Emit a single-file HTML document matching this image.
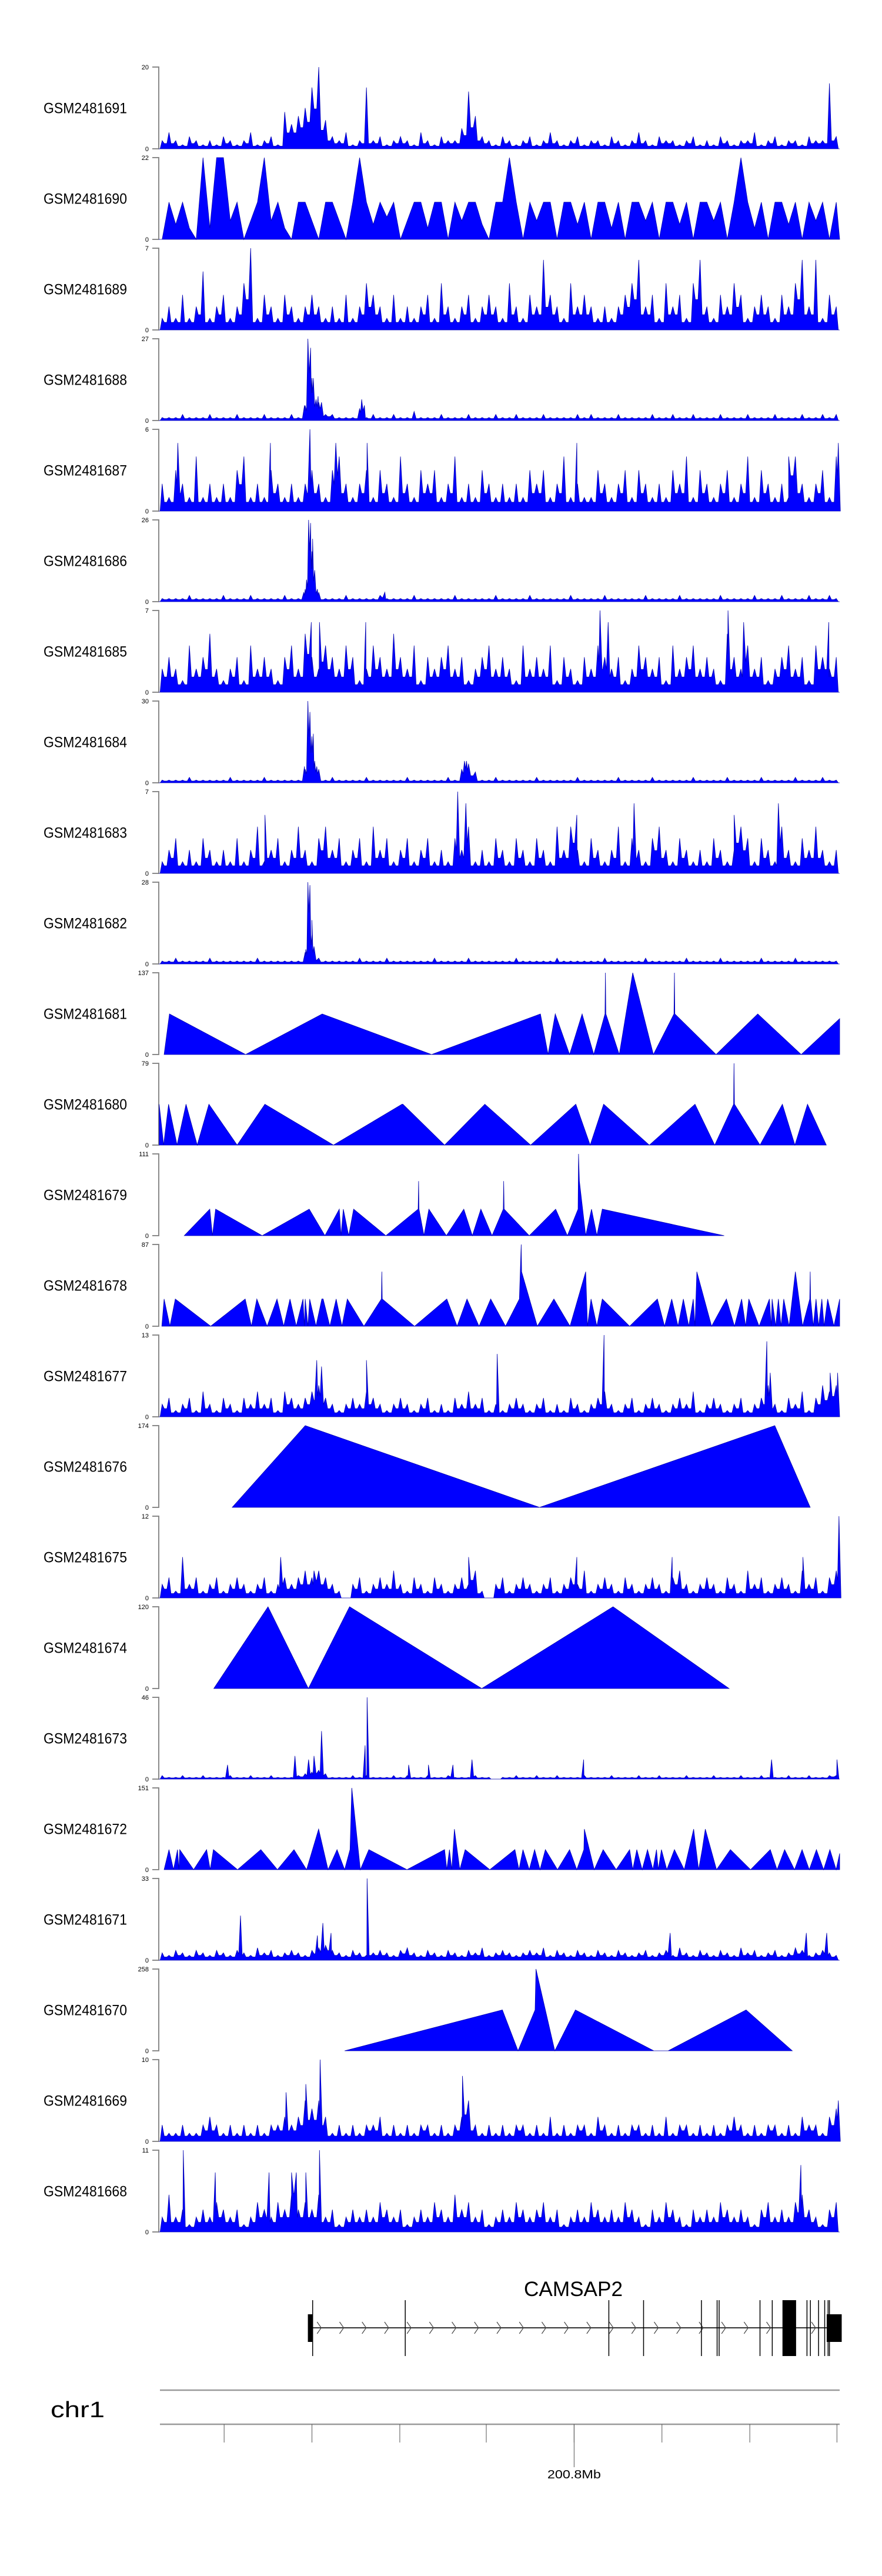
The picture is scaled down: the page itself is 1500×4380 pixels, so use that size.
<!DOCTYPE html>
<html><head><meta charset="utf-8"><title>Genome tracks</title>
<style>html,body{margin:0;padding:0;background:#fff}svg{display:block}text{font-family:"Liberation Sans",sans-serif}</style>
</head><body>
<svg id="chart" xmlns="http://www.w3.org/2000/svg" width="1500" height="4380" viewBox="0 0 1500 4380">
<g id="tracks"></g>
<g id="gene">
  <text x="975" y="3904" font-size="35" text-anchor="middle" textLength="168" lengthAdjust="spacingAndGlyphs">CAMSAP2</text>
</g>
<g id="axis">
  <text x="86" y="4110" font-size="38" textLength="92" lengthAdjust="spacingAndGlyphs">chr1</text>
</g>
</svg>
<script>
const trackLabels = ["GSM2481691","GSM2481690","GSM2481689","GSM2481688","GSM2481687","GSM2481686","GSM2481685","GSM2481684","GSM2481683","GSM2481682","GSM2481681","GSM2481680","GSM2481679","GSM2481678","GSM2481677","GSM2481676","GSM2481675","GSM2481674","GSM2481673","GSM2481672","GSM2481671","GSM2481670","GSM2481669","GSM2481668"];
const trackMax = [20,22,7,27,6,26,7,30,7,28,137,79,111,87,13,174,12,120,46,151,33,258,10,11];

const v691 = [2,4,2,1,3,2,1,2,1,3, 2,1,2,4,1,2,3,1,9,6, 8,10,15,20,7,3,2,4,1,2, 15,2,3,1,2,3,2,1,4,2, 1,3,2,2,5,14,8,3,2,1, 3,2,1,2,3,1,2,4,2,1, 2,3,1,2,2,1,3,2,1,2, 4,2,1,3,2,2,1,2,3,1, 2,1,3,2,1,2,2,4,1,2, 3,1,2,2,1,3,2,2,16,3];
const p691 = [];
const v690 = [0,10,4,10,3,0,22,3,22,22, 5,10,0,5,10,22,5,10,3,0, 10,10,5,0,10,10,5,0,10,22, 10,4,10,6,10,0,5,10,10,3, 10,10,0,10,5,10,10,4,0,10, 10,22,10,0,10,5,10,10,0,10, 10,4,10,0,10,10,3,10,0,10, 10,5,10,0,10,10,4,10,0,10, 10,5,10,0,10,22,10,3,10,0, 10,10,4,10,0,10,5,10,0,10];
const p690 = [];
const v689 = [1,2,1,3,1,2,5,1,2,3, 1,2,4,7,1,3,2,1,3,2, 1,2,3,2,1,2,1,3,1,2, 4,3,2,1,3,1,2,1,2,3, 1,4,2,1,2,3,1,2,3,2, 1,4,2,1,3,2,6,3,2,1, 4,2,3,2,1,2,1,2,3,4, 6,2,3,1,4,2,3,1,4,6, 2,1,3,2,4,3,1,2,3,2, 1,3,2,4,6,2,6,1,3,2];
const p689 = [];
const v688 = [1,1,1,2,1,1,1,2,1,1, 1,2,1,1,1,2,1,1,1,2, 1,5,14,6,2,2,1,1,1,4, 1,2,1,1,2,1,1,3,1,1, 1,2,1,1,1,2,1,1,1,2, 1,1,2,1,1,1,2,1,1,1, 1,2,1,2,1,1,1,2,1,1, 1,1,2,1,1,2,1,1,2,1, 1,1,2,1,1,1,2,1,1,1, 2,1,1,1,2,1,1,2,1,2];
const p688 = [[21.4,5],[21.9,27],[22.3,24],[22.7,14],[23.1,7],[23.4,8],[23.9,6],[29.8,7],[30.2,5]];
const v687 = [2,1,3,2,1,4,1,2,1,2, 1,3,4,1,2,1,3,2,1,2, 1,2,3,2,1,3,4,2,1,2, 3,1,3,2,1,4,2,1,3,2, 3,1,2,4,1,2,1,3,2,1, 2,1,2,1,3,2,3,1,2,4, 1,2,1,1,3,2,1,2,3,1, 3,2,1,2,1,3,2,4,1,3, 2,1,2,3,1,2,4,1,3,2, 1,2,1,4,2,1,2,3,1,4];
const p687 = [[2.8,5],[16.4,5],[22.2,6],[26.0,5],[30.6,5],[61.4,5],[92.5,4],[99.8,5]];
const v686 = [1,1,1,1,2,1,1,1,1,2, 1,1,1,2,1,1,1,1,2,1, 1,4,16,3,1,1,1,2,1,1, 1,1,2,1,1,1,1,2,1,1, 1,1,1,2,1,1,1,1,1,2, 1,1,1,1,2,1,1,1,1,1, 2,1,1,1,1,2,1,1,1,1, 1,2,1,1,1,1,2,1,1,1, 1,1,2,1,1,1,1,2,1,1, 1,2,1,1,1,2,1,1,2,1];
const p686 = [[21.3,3],[21.7,7],[22.0,26],[22.3,25],[22.6,20],[22.9,10],[23.3,4],[33.2,3]];
const v685 = [2,3,2,1,4,2,3,5,2,1, 2,3,1,4,2,3,2,1,3,4, 2,5,3,2,4,3,2,4,3,1, 2,4,3,2,5,3,2,4,1,3, 2,3,4,2,3,1,2,3,4,2, 3,2,1,4,2,3,2,4,1,3, 2,1,3,2,4,3,2,3,1,2, 4,3,2,3,1,4,2,3,4,2, 3,2,1,5,3,2,4,2,3,1, 2,3,4,2,3,1,4,3,2,3];
const p685 = [[22.4,6],[23.6,6],[30.4,6],[64.8,7],[66.0,6],[83.6,7],[85.9,6],[98.4,6]];
const v684 = [1,1,1,1,2,1,1,1,1,1, 2,1,1,1,1,2,1,1,1,1, 1,5,17,5,1,2,1,1,1,1, 2,1,1,1,1,1,2,1,1,1, 1,1,2,1,5,7,4,1,1,2, 1,1,1,1,1,2,1,1,1,1, 1,2,1,1,1,1,1,2,1,1, 1,1,2,1,1,1,1,1,2,1, 1,1,1,2,1,1,1,1,2,1, 1,1,1,2,1,1,1,2,1,1];
const p684 = [[21.4,6],[21.9,30],[22.2,26],[22.7,18],[22.9,8],[23.2,6],[44.9,8],[45.2,8]];
const v683 = [1,2,3,1,2,1,3,2,1,2, 1,3,1,2,4,1,2,3,1,2, 4,2,1,3,4,2,3,1,2,3, 1,4,2,3,1,2,3,1,2,3, 1,2,1,3,2,4,1,2,1,3, 2,1,3,2,1,3,2,1,4,2, 4,2,1,3,2,1,2,4,1,3, 2,1,3,4,2,1,3,2,1,2, 1,3,2,1,2,4,3,1,3,2, 1,4,2,1,3,2,4,2,1,2];
const p683 = [[15.6,5],[43.9,7],[45.1,6],[61.4,5],[69.8,6],[84.5,5],[91.0,6]];
const v682 = [1,1,2,1,1,1,1,2,1,1, 1,1,1,1,2,1,1,1,1,1, 1,4,10,2,1,1,1,1,1,2, 1,1,1,2,1,1,1,1,1,1, 2,1,1,1,1,2,1,1,1,1, 1,1,2,1,1,1,1,1,2,1, 1,1,1,1,1,2,1,1,1,1, 1,2,1,1,1,1,1,2,1,1, 1,1,2,1,1,1,1,1,2,1, 1,1,1,2,1,1,1,1,1,1];
const p682 = [[21.6,5],[21.9,28],[22.2,27],[22.5,15],[22.8,6]];
const v677 = [2,3,1,2,3,1,4,2,1,3, 2,1,3,2,4,2,3,1,4,3, 2,3,4,5,3,2,1,2,3,2, 4,3,2,1,2,3,2,1,2,3, 1,2,1,3,2,4,2,3,1,2, 1,2,3,2,1,2,3,1,2,1, 3,2,1,2,3,4,2,1,2,3, 1,2,3,2,1,2,3,2,4,1, 2,3,2,1,2,3,1,2,3,5, 2,1,3,2,4,1,3,5,4,5];
const p677 = [[23.2,9],[23.9,8],[30.5,9],[49.7,10],[65.4,13],[89.3,12],[89.8,7],[98.6,7],[99.7,7]];
const v675 = [2,3,1,6,2,3,1,2,3,1, 2,3,2,1,2,3,1,2,3,2, 3,4,3,4,3,2,1,0,2,3, 1,2,3,2,4,2,1,3,2,1, 3,2,1,2,3,2,4,1,0,2, 3,1,2,3,2,1,2,3,1,2, 3,2,4,1,2,3,2,1,3,2, 1,2,3,2,1,3,4,2,1,2, 3,2,1,3,2,1,4,2,3,1, 2,3,2,1,4,2,3,1,3,4];
const p675 = [[17.9,6],[22.8,4],[45.5,6],[61.4,6],[75.4,6],[94.6,6],[99.9,12]];
const v673 = [2,1,1,2,1,1,2,1,1,1, 2,1,1,2,1,1,2,1,1,1, 2,3,4,5,3,1,1,1,2,1, 2,1,1,1,2,1,2,1,1,2, 1,1,2,1,1,1,2,1,1,0, 1,1,2,1,1,2,1,1,2,1, 1,1,2,1,1,1,2,1,1,1, 2,1,1,2,1,1,1,2,1,1, 1,2,1,1,1,2,1,1,2,1, 1,1,2,1,1,2,1,1,2,2];
const p673 = [[10.1,8],[20.0,13],[22.0,11],[22.8,13],[23.9,27],[30.3,19],[30.6,46],[36.7,8],[39.6,8],[43.2,8],[46.0,11],[62.4,11],[90.0,11],[99.6,11]];
const v671 = [3,2,4,3,2,4,3,2,4,3, 2,4,3,2,5,3,4,2,3,4, 3,2,4,5,6,4,3,2,4,3, 2,3,4,3,2,4,5,3,2,4, 3,2,4,3,2,4,3,5,2,3, 4,3,2,3,4,3,5,2,4,3, 2,4,3,2,4,3,2,4,3,2, 3,4,2,3,4,2,5,3,2,4, 3,2,4,3,2,5,3,4,2,3, 4,2,3,5,4,2,3,4,3,2];
const p671 = [[12.0,18],[23.3,10],[24.1,15],[25.3,11],[30.6,33],[75.1,11],[95.1,11],[98.1,11]];
const v669 = [2,1,1,2,1,1,2,3,2,1, 2,1,2,1,2,1,2,2,3,2, 3,5,4,5,3,1,2,1,2,1, 2,2,3,1,2,1,2,1,2,2, 1,2,1,2,3,5,2,1,2,1, 2,1,2,2,1,2,1,3,1,2, 1,2,2,1,3,2,1,2,1,2, 2,1,2,1,3,1,2,2,1,2, 1,2,1,2,3,2,1,2,1,2, 2,1,2,1,3,2,2,1,3,4];
const p669 = [[18.7,6],[21.6,7],[23.7,10],[44.6,8],[99.8,5]];
const v668 = [2,5,2,3,1,2,3,2,4,3, 2,3,1,2,4,3,2,4,3,5, 3,4,3,5,2,3,1,2,3,2, 3,2,4,3,2,3,1,2,3,2, 4,3,2,5,3,4,2,3,1,2, 3,2,4,3,2,3,4,2,3,1, 2,3,2,4,3,2,3,2,4,3, 2,1,3,2,4,3,2,1,3,2, 3,2,4,3,2,3,2,1,3,4, 2,3,2,4,5,3,2,1,3,4];
const p668 = [[3.6,11],[8.3,8],[16.2,8],[19.5,8],[20.2,8],[21.6,8],[23.6,11],[94.3,9]];

const s681 = [[25,0],[37,68],[207,0],[378,68],[622,0],[865,68],[882,0],[898,68],[930,0],[958,68],[984,0],[1009,68],[1010,137],[1011,68],[1041,0],[1071,137],[1117,0],[1163,68],[1164,137],[1165,68],[1257,0],[1350,68],[1447,0],[1533,60],[1533,0]];
const s680 = [[14,39.5],[24,0],[35,39.5],[54,0],[74,39.5],[99,0],[125,39.5],[188,0],[250,39.5],[403,0],[556,39.5],[558,39.5],[651,0],[741,39.5],[843,0],[944,39.5],[976,0],[1006,39.5],[1108,0],[1210,39.5],[1254,0],[1296,39.5],[1297,79],[1298,39.5],[1355,0],[1405,39.5],[1433,0],[1461,39.5],[1503,0]];
const s679 = [[70,0],[127,36],[133,0],[140,36],[244,0],[349,36],[384,0],[416,36],[420,0],[425,36],[437,0],[448,36],[520,0],[592,36],[593,74],[594,36],[605,0],[616,36],[655,0],[694,36],[713,0],[732,36],[757,0],[782,36],[783,74],[784,36],[840,0],[899,36],[925,0],[949,36],[950,111],[952,74],[966,0],[979,36],[991,0],[1003,36],[1275,0]];
const s678 = [[20,0],[25,29],[38,0],[50,29],[129,0],[206,29],[220,0],[232,29],[255,0],[277,29],[292,0],[306,29],[320,0],[335,29],[338,0],[340,29],[346,0],[350,29],[364,0],[377,29],[380,29],[395,0],[409,29],[422,0],[434,29],[471,0],[510,29],[511,58],[512,29],[584,0],[656,29],[679,0],[701,29],[728,0],[754,29],[787,0],[818,29],[822,87],[823,58],[858,0],[895,29],[931,0],[966,58],[970,0],[978,29],[991,0],[1003,29],[1064,0],[1126,29],[1142,0],[1158,29],[1172,0],[1184,29],[1196,0],[1206,29],[1210,0],[1214,58],[1247,0],[1280,29],[1298,0],[1314,29],[1323,0],[1330,29],[1353,0],[1376,29],[1380,0],[1382,29],[1390,0],[1396,29],[1402,0],[1408,29],[1420,0],[1434,58],[1450,0],[1466,29],[1467,58],[1468,29],[1474,0],[1480,29],[1486,0],[1493,29],[1498,0],[1506,29],[1520,0],[1533,29],[1533,0]];
const s676 = [[177,0],[340,174],[863,0],[1388,174],[1467,0]];
const s674 = [[136,0],[257,120],[347,0],[439,120],[734,0],[1027,120],[1286,0]];
const s672 = [[25,0],[36,37],[46,0],[55,37],[58,0],[60,37],[91,0],[120,37],[128,0],[135,37],[189,0],[241,37],[278,0],[315,37],[343,0],[370,75],[391,0],[411,37],[428,0],[440,37],[444,151],[463,0],[482,37],[567,0],[651,37],[656,0],[662,37],[667,0],[673,75],[685,0],[697,37],[752,0],[808,37],[817,0],[826,37],[840,0],[852,37],[864,0],[876,37],[903,0],[930,37],[946,0],[962,37],[963,75],[985,0],[1005,37],[1034,0],[1064,37],[1071,0],[1080,37],[1092,0],[1104,37],[1116,0],[1124,37],[1128,0],[1135,37],[1147,0],[1164,37],[1186,0],[1207,75],[1218,0],[1226,37],[1233,75],[1258,0],[1289,37],[1334,0],[1378,37],[1393,0],[1410,37],[1432,0],[1449,37],[1465,0],[1481,37],[1497,0],[1511,37],[1525,0],[1533,30],[1533,0]];
const s670 = [[428,0],[780,129],[815,0],[853,129],[855,258],[897,0],[943,129],[1118,0],[1150,0],[1324,129],[1427,0]];

const exonLines = [22.6,36.2,66.1,71.2,79.7,82.0,82.3,88.3,90.1,95.2,95.7,96.9,97.8,98.3,98.5];
const thickExons = [[91.6,93.6]];
const utrBoxes = [[21.9,22.6],[98.1,100.3]];
const axisTicks = [9.6,22.5,35.4,48.1,61.0,73.9,86.8,99.6];
const axisLabel = [[61.0,"200.8Mb"]];

const denseData = {1:[v690,p690],0:[v691,p691],2:[v689,p689],3:[v688,p688],4:[v687,p687],5:[v686,p686],6:[v685,p685],7:[v684,p684],8:[v683,p683],9:[v682,p682],14:[v677,p677],16:[v675,p675],18:[v673,p673],20:[v671,p671],22:[v669,p669],23:[v668,p668]};
const sparseData = {10:s681,11:s680,12:s679,13:s678,15:s676,17:s674,19:s672,21:s670};

const NS="http://www.w3.org/2000/svg";
const X0=270, X1=1428, TOP0=114, STEP=154, TH=139;
function xPct(p){return X0 + p*(X1-X0)/100;}
function xPos(d){return 260 + d*0.762;}
function yVal(i,v){const b=TOP0+i*STEP+TH;return b - v/trackMax[i]*TH;}
function mk(tag,attrs,parent){const e=document.createElementNS(NS,tag);for(const k in attrs)e.setAttribute(k,attrs[k]);parent.appendChild(e);return e;}

const tracks=document.getElementById('tracks');
trackLabels.forEach((lab,i)=>{
  const g=mk('g',{},tracks);
  
  
  const top=TOP0+i*STEP, bot=top+TH;
  const t=mk('text',{x:74,y:top+TH/2+9,'font-size':25,textLength:142,lengthAdjust:'spacingAndGlyphs'},g);
  t.textContent=lab;
  
  
  const ax=mk('path',{d:`M259 ${top}H270V${bot}H259`,fill:'none',stroke:'#8a8a8a','stroke-width':2},g);
  
  
  const tmax=mk('text',{x:253,y:top+4,'font-size':11,'text-anchor':'end'},g);
  tmax.textContent=String(trackMax[i]);
  
  
  const tmin=mk('text',{x:253,y:bot+4,'font-size':11,'text-anchor':'end'},g);
  tmin.textContent='0';
  
  
  let pts=[];
  if(denseData[i]){
    const [vals,peaks]=denseData[i];
    let arr=vals.map((v,k)=>[k+0.5,v]).concat(peaks);
    arr.sort((a,b)=>a[0]-b[0]);
    if(i===1){
      pts=arr.map(a=>[xPct(a[0]),yVal(i,a[1])]);
    } else {
      arr.forEach((a,k)=>{
        const prev=k>0?arr[k-1]:null, next=k<arr.length-1?arr[k+1]:null;
        const floorL=prev?Math.min(a[1],prev[1])*0.65:0;
        const floorR=next?Math.min(a[1],next[1])*0.65:0;
        const wl=prev?Math.min(0.3,(a[0]-prev[0])*0.5):0.3;
        const wr=next?Math.min(0.3,(next[0]-a[0])*0.5):0.3;
        pts.push([xPct(a[0]-wl),yVal(i,floorL)]);
        pts.push([xPct(a[0]),yVal(i,a[1])]);
        pts.push([xPct(a[0]+wr),yVal(i,floorR)]);
      });
    }
    pts.unshift([xPct(0),bot]);pts.push([xPct(100),bot]);
  } else {
    const arr=sparseData[i];
    pts=arr.map(a=>[Math.min(xPos(a[0]),X1),yVal(i,a[1])]);
    pts.unshift([pts[0][0],bot]);pts.push([pts[pts.length-1][0],bot]);
  }
  const poly=mk('polygon',{points:pts.map(p=>p[0].toFixed(1)+','+p[1].toFixed(1)).join(' '),fill:'#0000ff',stroke:'#0000b0','stroke-width':0.8,'stroke-linejoin':'miter'},g);
  
  
});

const gene=document.getElementById('gene');
const line=mk('line',{x1:xPct(22.6),x2:xPct(98.1),y1:3958,y2:3958,stroke:'#333','stroke-width':2},gene);


for(let p=23.6;p<97.5;p+=3.3){
  const x=xPct(p);
  const c=mk('path',{d:`M${x-4} 3948L${x+3} 3958L${x-4} 3968`,fill:'none',stroke:'#444','stroke-width':1.2},gene);
  
  
}
exonLines.forEach(p=>{
  const l=mk('line',{x1:xPct(p),x2:xPct(p),y1:3911,y2:4006,stroke:'#000','stroke-width':1.5},gene);
  
  
});
thickExons.forEach(e=>{
  const r=mk('rect',{x:xPct(e[0]),y:3911,width:xPct(e[1])-xPct(e[0]),height:95,fill:'#000'},gene);
  
  
});
utrBoxes.forEach(e=>{
  const r=mk('rect',{x:xPct(e[0]),y:3935,width:xPct(e[1])-xPct(e[0]),height:47,fill:'#000'},gene);
  
  
});

const axis=document.getElementById('axis');
[4064,4122].forEach(y=>{
  const l=mk('line',{x1:272,x2:1428,y1:y,y2:y,stroke:'#999','stroke-width':2.5},axis);
  
  
});
axisTicks.forEach(p=>{
  const l=mk('line',{x1:xPct(p),x2:xPct(p),y1:4122,y2:4153,stroke:'#555','stroke-width':1},axis);
  
  
});
axisLabel.forEach(a=>{
  const l=mk('line',{x1:xPct(a[0]),x2:xPct(a[0]),y1:4122,y2:4195,stroke:'#555','stroke-width':1},axis);
  
  
  const t=mk('text',{x:xPct(a[0]),y:4214,'font-size':20,'text-anchor':'middle',textLength:91,lengthAdjust:'spacingAndGlyphs'},axis);
  t.textContent=a[1];
  
  
});
</script>
</body></html>
